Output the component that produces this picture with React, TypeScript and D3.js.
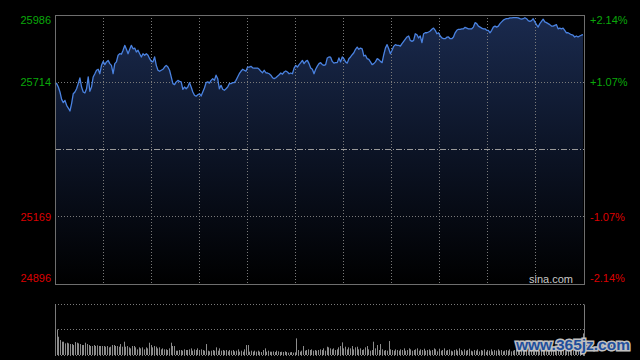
import React, { useEffect } from "react";
import * as d3 from "d3";

const priceTicks = [25986, 25714, 25169, 24896];
const pctTicks = ["+2.14%", "+1.07%", "-1.07%", "-2.14%"];
const prevClose = 25441;
const priceMin = 24896;
const priceMax = 25986;

const prices = [
  25712, 25708, 25694, 25674, 25644, 25631, 25640, 25620, 25609, 25597,
  25627, 25667, 25674, 25687, 25708, 25731, 25694, 25674, 25670, 25687,
  25735, 25677, 25694, 25735, 25748, 25762, 25766, 25748, 25782, 25798,
  25785, 25796, 25802, 25789, 25782, 25748, 25789, 25796, 25823, 25829,
  25827, 25843, 25863, 25847, 25829, 25847, 25863, 25849, 25852, 25836,
  25843, 25829, 25816, 25829, 25823, 25829, 25823, 25809, 25798, 25796,
  25816, 25782, 25762, 25758, 25762, 25766, 25775, 25782, 25775, 25762,
  25735, 25708, 25704, 25715, 25721, 25717, 25715, 25685, 25694, 25687,
  25694,
  25712, 25694, 25674, 25661, 25657, 25663, 25667, 25658, 25674, 25690,
  25712, 25715, 25710, 25721, 25728, 25721, 25742, 25728, 25687, 25701,
  25685, 25681, 25687, 25694, 25708, 25708, 25712, 25712, 25721, 25735,
  25748, 25758, 25766, 25762, 25758, 25775, 25775, 25778, 25772, 25771,
  25771, 25771, 25766, 25758, 25752, 25762, 25752, 25751, 25748, 25742,
  25732, 25728, 25732, 25738, 25744, 25751, 25746, 25755, 25759, 25755,
  25748, 25751, 25748, 25771, 25782, 25775, 25785, 25793, 25802, 25789,
  25798, 25802, 25789, 25771, 25766, 25748, 25766, 25779, 25789,
  25793, 25785, 25782, 25785, 25812, 25816, 25815, 25798, 25791, 25793,
  25793, 25812, 25796, 25816, 25809, 25796, 25791, 25809, 25816, 25825,
  25833, 25847, 25856, 25847, 25852, 25849, 25820, 25823, 25809, 25806,
  25796, 25785, 25789, 25796, 25809, 25805, 25798, 25793, 25825, 25852,
  25866, 25849, 25829, 25843, 25859, 25866, 25863, 25863, 25860, 25870,
  25879, 25888, 25897, 25901, 25883, 25879, 25883, 25910, 25906, 25893,
  25901, 25874, 25910, 25914, 25914, 25917, 25921, 25928, 25933, 25924,
  25910, 25914, 25901, 25893, 25890, 25890, 25896, 25897, 25890,
  25890, 25897, 25914, 25924, 25928, 25928, 25930, 25930, 25936, 25933,
  25930, 25930, 25930, 25937, 25955, 25951, 25941, 25937, 25933, 25930,
  25930, 25924, 25924, 25914, 25924, 25937, 25941, 25937, 25941, 25951,
  25958, 25965, 25969, 25971, 25971, 25974, 25974, 25975, 25975, 25975,
  25974, 25971, 25969, 25971, 25975, 25971, 25963, 25960, 25963, 25971,
  25958, 25947, 25937, 25951, 25960, 25969, 25958, 25955, 25951, 25947,
  25941, 25941, 25944, 25947, 25930, 25933, 25930, 25933, 25924, 25914,
  25914, 25910, 25906, 25904, 25897, 25901, 25897, 25901, 25904, 25906,
];

const volumes = [
  152, 77, 55, 45, 40, 40, 35, 37, 35, 33,
  33, 30, 39, 37, 35, 33, 30, 30, 37, 33,
  30, 27, 27, 30, 27, 29, 27, 27, 27, 27,
  25, 27, 23, 25, 30, 30, 27, 27, 25, 33,
  25, 40, 25, 27, 23, 20, 27, 27, 23, 17,
  23, 20, 23, 17, 23, 20, 37, 30, 23, 27,
  25, 20, 23, 17, 20, 17, 17, 15, 20, 37,
  27, 27, 13, 13, 15, 15, 13, 17, 15, 15,
  17, 20, 13, 17, 15, 20, 15, 17, 15, 13,
  33, 13, 11, 13, 15, 13, 23, 13, 20, 13,
  15, 13, 15, 11, 15, 13, 15, 11, 13, 17,
  10, 13, 10, 17, 30, 30, 10, 13, 10, 13,
  10, 13, 10, 9, 15, 20, 10, 13, 10, 10,
  11, 9, 13, 11, 9, 10, 9, 11, 9, 7,
  8, 9, 7, 8, 50, 15, 10, 13, 27, 13,
  15, 17, 15, 17, 13, 15, 13, 15,
  17, 15, 20, 13, 25, 23, 20, 17, 20, 15,
  17, 23, 27, 38, 20, 25, 17, 23, 20, 27,
  17, 23, 25, 17, 20, 15, 17, 23, 27, 17,
  13, 15, 40, 20, 30, 15, 33, 17, 13, 15,
  13, 42, 17, 15, 13, 17, 15, 13, 17, 15,
  20, 13, 15, 20, 17, 13, 15, 17, 20, 13,
  17, 15, 19, 13, 15, 17, 13, 15, 20, 17,
  11, 19, 13, 15, 20, 13, 15, 17, 13, 11,
  15, 17, 13, 20, 15, 11, 17, 13, 15, 19,
  13, 11, 15, 13, 17, 11, 15, 13, 17, 10,
  15, 13, 17, 11, 15, 13, 17, 13, 15, 11,
  13, 15, 13, 17, 11, 13, 15, 17,
  15, 13, 17, 15, 12, 16, 14, 18, 13, 15,
  17, 14, 16, 13, 18, 15, 14, 17, 13, 16,
  15, 19, 14, 17, 15, 13, 18, 16, 14, 17,
  20, 15, 18, 16, 22, 17, 19, 24, 21, 65,
];

const sessionMinutes = 330;
const gridStep = 30;

const W = 640;
const H = 360;
const L = 55;
const R = 584;
const T = 15;
const B = 284;
const VT = 304.5;
const VB = 355;

const GREEN = "#0aa80a";
const RED = "#dd0000";
const GRID = "#7a7a7a";
const FONT = "'Liberation Sans', Arial, sans-serif";

export default function App() {
  useEffect(() => {
    document.body.style.margin = "0";
    document.body.style.background = "#000";
  }, []);

  const y = d3.scaleLinear().domain([priceMin, priceMax]).range([B, T]);
  const xt = d3.scaleLinear().domain([0, sessionMinutes]).range([L, R]);
  const xi = d3.scaleLinear().domain([0, prices.length - 1]).range([L, R - 1]);
  const xv = d3.scaleLinear().domain([0, volumes.length - 1]).range([L + 0.5, R - 0.5]);
  const yv = d3.scaleLinear().domain([0, d3.max(volumes) as number]).range([VB, VT]);

  const area = d3
    .area<number>()
    .x((_, i) => xi(i))
    .y0(B)
    .y1((d) => y(d));
  const line = d3
    .line<number>()
    .x((_, i) => xi(i))
    .y((d) => y(d));

  const crisp = (v: number) => Math.round(v - 0.5) + 0.5;
  const vGrid = d3.range(gridStep, sessionMinutes, gridStep);
  const hGrid = [priceTicks[1], priceTicks[2]];

  const labelY = (i: number) => {
    const yy = y(priceTicks[i]);
    if (i === 0) return yy + 9;
    if (i === priceTicks.length - 1) return yy - 2;
    return yy + 4;
  };

  return (
    <svg
      width={W}
      height={H}
      style={{ position: "absolute", left: 0, top: 0, display: "block", background: "#000" }}
    >
      <defs>
        <linearGradient id="fillGrad" gradientUnits="userSpaceOnUse" x1="0" y1={T} x2="0" y2={B}>
          <stop offset="0" stopColor="#1a2a4e" />
          <stop offset="0.5" stopColor="#0c1426" />
          <stop offset="1" stopColor="#000000" />
        </linearGradient>
      </defs>
      <rect x={0} y={0} width={W} height={H} fill="#000" />

      <path d={area(prices) || ""} fill="url(#fillGrad)" />

      {vGrid.map((m) => (
        <line
          key={"vg" + m}
          x1={crisp(xt(m))}
          x2={crisp(xt(m))}
          y1={T}
          y2={B}
          stroke={GRID}
          strokeDasharray="1,2"
        />
      ))}
      {hGrid.map((p) => (
        <line
          key={"hg" + p}
          x1={L}
          x2={R}
          y1={crisp(y(p))}
          y2={crisp(y(p))}
          stroke={GRID}
          strokeDasharray="1,2"
        />
      ))}
      <line
        x1={L}
        x2={R}
        y1={crisp(y(prevClose))}
        y2={crisp(y(prevClose))}
        stroke="#9a9a9a"
        strokeDasharray="6,2,1,2"
      />

      <path d={line(prices) || ""} fill="none" stroke="#4a82e0" strokeWidth={1.3} strokeLinejoin="round" />

      <rect x={crisp(L)} y={crisp(T)} width={R - L} height={B - T} fill="none" stroke="#6e6e6e" />

      {priceTicks.map((p, i) => (
        <text
          key={"lt" + p}
          x={51}
          y={labelY(i)}
          textAnchor="end"
          fontFamily={FONT}
          fontSize={11}
          fill={p > prevClose ? GREEN : RED}
        >
          {p}
        </text>
      ))}
      {pctTicks.map((t, i) => (
        <text
          key={"rt" + t}
          x={590}
          y={labelY(i)}
          textAnchor="start"
          fontFamily={FONT}
          fontSize={11}
          fill={t.startsWith("+") ? GREEN : RED}
        >
          {t}
        </text>
      ))}
      <text x={573} y={283} textAnchor="end" fontFamily={FONT} fontSize={11} fill="#c8c8c8">
        sina.com
      </text>

      {/* volume panel */}
      <line x1={L} x2={R} y1={VT} y2={VT} stroke={GRID} strokeDasharray="1,2" />
      <line x1={L} x2={R} y1={crisp((VT + VB) / 2)} y2={crisp((VT + VB) / 2)} stroke={GRID} strokeDasharray="1,2" />
      <line x1={L} x2={R} y1={VB + 0.5} y2={VB + 0.5} stroke={GRID} strokeDasharray="1,2" />
      {volumes.map((v, i) => (
        <line
          key={"v" + i}
          x1={crisp(xv(i))}
          x2={crisp(xv(i))}
          y1={VB}
          y2={yv(v)}
          stroke="#8c8c8c"
          strokeWidth={1}
        />
      ))}
      <line x1={crisp(L)} x2={crisp(L)} y1={VT} y2={VB + 1} stroke="#7a7a7a" />
      <line x1={crisp(R)} x2={crisp(R)} y1={VT} y2={VB + 1} stroke="#7a7a7a" />

      <text
        x={516}
        y={350}
        fontFamily="'Liberation Sans', Arial, sans-serif"
        fontWeight="bold"
        fontSize={15.5}
        fill="#1f4f9c"
        stroke="#c0c0c0"
        strokeWidth={3}
        paintOrder="stroke"
      >
        www.365jz.com
      </text>
    </svg>
  );
}
